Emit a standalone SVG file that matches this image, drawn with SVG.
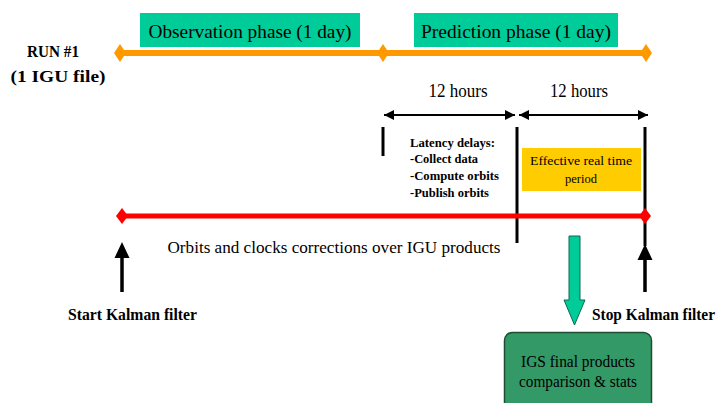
<svg xmlns="http://www.w3.org/2000/svg" width="719" height="403" viewBox="0 0 719 403" font-family="'Liberation Serif', 'Times New Roman', serif">
<style>
text{font-family:'Liberation Serif','Times New Roman',serif;fill:#000}
.ph{font-size:18px}
.b{font-weight:bold}
.blk{stroke:#000;stroke-width:3;fill:none}
.thin{stroke:#000;stroke-width:2;fill:none}
</style>
<defs>
<marker id="ah" viewBox="0 0 10 10" refX="10" refY="5" markerWidth="5" markerHeight="5" orient="auto-start-reverse" markerUnits="strokeWidth">
<path d="M0,0 L10,5 L0,10 Z" fill="#000"/>
</marker>
</defs>
<rect width="719" height="403" fill="#fff"/>

<g id="run-label">
<text class="b" x="53" y="57" font-size="17.5" text-anchor="middle" textLength="52" lengthAdjust="spacingAndGlyphs">RUN #1</text>
<text class="b" x="58" y="82" font-size="17.5" text-anchor="middle" textLength="95" lengthAdjust="spacingAndGlyphs">(1 IGU file)</text>
</g>

<g id="observation-phase">
<rect x="140" y="13" width="220" height="34" fill="#00CC99"/>
<text class="ph" x="250" y="38" text-anchor="middle" textLength="203" lengthAdjust="spacingAndGlyphs">Observation phase (1 day)</text>
</g>
<g id="prediction-phase">
<rect x="414" y="13" width="204" height="34" fill="#00CC99"/>
<text class="ph" x="516" y="38" text-anchor="middle" textLength="190" lengthAdjust="spacingAndGlyphs">Prediction phase (1 day)</text>
</g>

<g id="orange-timeline">
<line x1="120" y1="53" x2="646" y2="53" stroke="#FF9900" stroke-width="6"/>
<path d="M120,44 L126,53 L120,62 L114,53 Z" fill="#FF9900"/>
<path d="M383,44 L389,53 L383,62 L377,53 Z" fill="#FF9900"/>
<path d="M646,44 L652,53 L646,62 L640,53 Z" fill="#FF9900"/>
</g>

<g id="hours-labels">
<text x="458" y="97" font-size="18" text-anchor="middle" textLength="59" lengthAdjust="spacingAndGlyphs">12 hours</text>
<text x="579" y="97" font-size="18" text-anchor="middle" textLength="58" lengthAdjust="spacingAndGlyphs">12 hours</text>
</g>

<g id="connectors">
<line class="thin" x1="384" y1="115" x2="515" y2="115" marker-start="url(#ah)" marker-end="url(#ah)"/>
<line class="thin" x1="519" y1="115" x2="648" y2="115" marker-start="url(#ah)" marker-end="url(#ah)"/>
<line class="blk" x1="383" y1="127" x2="383" y2="156"/>
<line class="blk" x1="517" y1="127" x2="517" y2="243"/>
<line class="blk" x1="645" y1="127" x2="645" y2="246"/>
<line x1="122" y1="256" x2="122" y2="292" stroke="#000" stroke-width="3.5"/>
<path d="M122,242 L129.5,258 L114.5,258 Z" fill="#000"/>
<line x1="645" y1="256" x2="645" y2="292" stroke="#000" stroke-width="3.5"/>
<path d="M645,244 L652.5,260 L637.5,260 Z" fill="#000"/>
<path d="M569,236 L580,236 L580,300 L585,300 L574.5,325 L564,300 L569,300 Z" fill="#00CC99" stroke="#0a6b4f" stroke-width="1"/>
</g>

<g id="latency">
<text class="b" font-size="12" x="410" y="147" textLength="85" lengthAdjust="spacingAndGlyphs">Latency delays:</text>
<text class="b" font-size="12" x="410" y="163" textLength="68" lengthAdjust="spacingAndGlyphs">-Collect data</text>
<text class="b" font-size="12" x="410" y="180" textLength="89" lengthAdjust="spacingAndGlyphs">-Compute orbits</text>
<text class="b" font-size="12" x="410" y="197" textLength="79" lengthAdjust="spacingAndGlyphs">-Publish orbits</text>
</g>

<g id="effective-period">
<rect x="522" y="148" width="119" height="43" fill="#FFCC00"/>
<text font-size="12.5" x="581" y="165" text-anchor="middle" textLength="102" lengthAdjust="spacingAndGlyphs">Effective real time</text>
<text font-size="12.5" x="581" y="183" text-anchor="middle">period</text>
</g>

<g id="red-timeline">
<line x1="122" y1="216" x2="645" y2="216" stroke="#FF0000" stroke-width="5"/>
<path d="M122,208 L128,216 L122,224 L116,216 Z" fill="#FF0000"/>
<path d="M645,208 L651,216 L645,224 L639,216 Z" fill="#FF0000"/>
<text font-size="17" x="334" y="253" text-anchor="middle" textLength="333" lengthAdjust="spacingAndGlyphs">Orbits and clocks corrections over IGU products</text>
</g>

<g id="start-kalman">
<text class="b" font-size="16" x="68" y="320" textLength="129" lengthAdjust="spacingAndGlyphs">Start Kalman filter</text>
</g>
<g id="stop-kalman">
<text class="b" font-size="16" x="592" y="320" textLength="123" lengthAdjust="spacingAndGlyphs">Stop Kalman filter</text>
</g>

<g id="igs-final">
<rect x="504.5" y="332.5" width="147" height="80" rx="8" fill="#339966" stroke="#1d4d33" stroke-width="1.5"/>
<text font-size="16.5" x="578" y="367" text-anchor="middle" textLength="114" lengthAdjust="spacingAndGlyphs">IGS final products</text>
<text font-size="16.5" x="578" y="387" text-anchor="middle" textLength="118" lengthAdjust="spacingAndGlyphs">comparison &amp; stats</text>
</g>
</svg>
